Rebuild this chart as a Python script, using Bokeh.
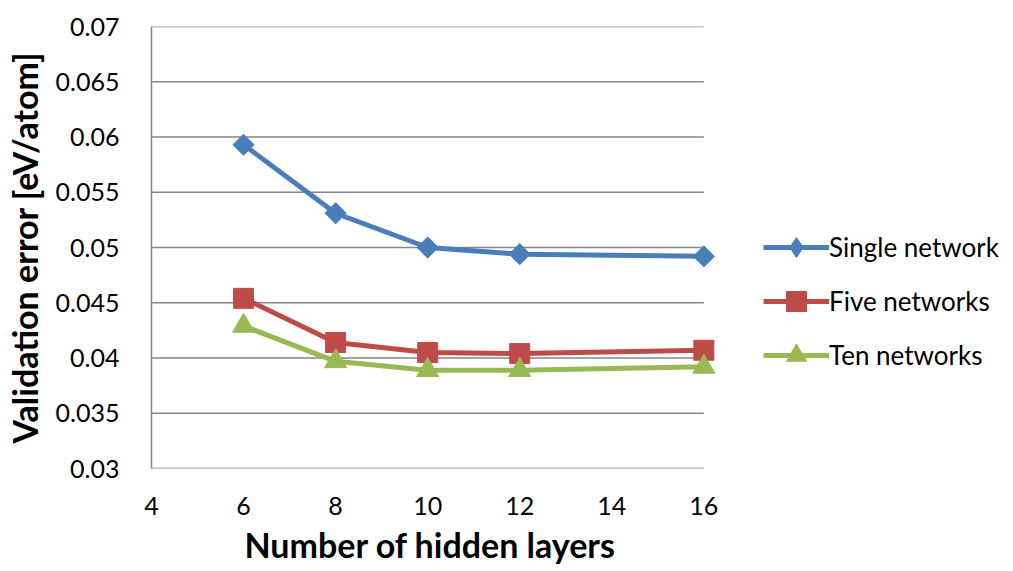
from bokeh.plotting import figure
from bokeh.models import Legend, LegendItem, FixedTicker, Range1d, Title
from bokeh.embed import file_html
from bokeh.resources import INLINE

# Validation error versus number of hidden layers for three ensemble sizes
hidden_layers = [6, 8, 10, 12, 16]
single_network = [0.0593, 0.0531, 0.0500, 0.0494, 0.0492]
five_networks = [0.0454, 0.0414, 0.0405, 0.0404, 0.0407]
ten_networks = [0.0429, 0.0397, 0.0389, 0.0389, 0.0392]

x_ticks = [4, 6, 8, 10, 12, 14, 16]
y_ticks = [0.03, 0.035, 0.04, 0.045, 0.05, 0.055, 0.06, 0.065, 0.07]

FONT = "Lato"
BLUE = "#4a7ebb"
RED = "#be4b48"
GREEN = "#98b954"
GREY = "#868686"

# Layout: the plotting area spans x_ticks[0]..x_ticks[-1] over AREA_W pixels;
# the frame runs on to the right so the legend can sit beside the lines.
W, H = 1013, 571
LEFT, RIGHT, TOP, BOTTOM = 150, 0, 26, 103
AREA_W = 553
frame_w = W - LEFT - RIGHT
x_lo, x_hi = x_ticks[0], x_ticks[-1]
x_end = x_lo + (x_hi - x_lo) * frame_w / AREA_W

p = figure(
    width=W, height=H,
    x_range=Range1d(x_lo, x_end), y_range=Range1d(y_ticks[0], y_ticks[-1]),
    output_backend="svg", toolbar_location=None,
    min_border_left=LEFT, min_border_right=RIGHT,
    min_border_top=TOP, min_border_bottom=BOTTOM,
)
p.outline_line_color = None
p.background_fill_color = "white"
p.border_fill_color = "white"

p.xaxis.ticker = FixedTicker(ticks=x_ticks)
p.yaxis.ticker = FixedTicker(ticks=y_ticks)
p.yaxis.major_label_overrides = {t: f"{t:g}" for t in y_ticks}

for ax in (p.xaxis[0], p.yaxis[0]):
    ax.major_tick_line_color = None
    ax.minor_tick_line_color = None
    ax.major_label_text_font = FONT
    ax.major_label_text_font_size = "25px"
    ax.major_label_text_color = "black"
    ax.axis_label_text_font = FONT
    ax.axis_label_text_font_style = "bold"
    ax.axis_label_text_font_size = "34px"
    ax.axis_label_text_color = "black"

p.yaxis.axis_line_color = GREY
p.yaxis.axis_line_width = 1.5
p.xaxis.axis_line_color = None

p.yaxis.axis_label = "Validation error [eV/atom]"
p.xaxis.major_label_standoff = 22
p.yaxis.major_label_standoff = 26
p.yaxis.axis_label_standoff = 8

# x axis title, centred under the plotting area rather than the whole frame
x_title = Title(
    text="Number of hidden layers", align="left", offset=93, standoff=8,
    text_font=FONT, text_font_size="34px", text_font_style="bold",
    text_color="black",
)
p.add_layout(x_title, "below")

# horizontal gridlines (and the x axis line) only across the plotting area
p.xgrid.grid_line_color = None
p.ygrid.grid_line_color = None
p.segment(x0=[x_lo] * len(y_ticks), x1=[x_hi] * len(y_ticks),
          y0=y_ticks, y1=y_ticks, line_color=GREY, line_width=1.5)

l1 = p.line(hidden_layers, single_network, line_color=BLUE, line_width=5)
# diamond symbol for the legend key, drawn beneath the rotated squares
m1_key = p.scatter(hidden_layers, single_network, marker="diamond", size=15,
                   fill_color=BLUE, line_color=BLUE)
m1 = p.scatter(hidden_layers, single_network, marker="square", size=15,
               angle=45, angle_units="deg", fill_color=BLUE, line_color=BLUE)
l2 = p.line(hidden_layers, five_networks, line_color=RED, line_width=5)
m2 = p.scatter(hidden_layers, five_networks, marker="square", size=20,
               fill_color=RED, line_color=RED)
l3 = p.line(hidden_layers, ten_networks, line_color=GREEN, line_width=5)
m3 = p.scatter(hidden_layers, ten_networks, marker="triangle", size=22,
               fill_color=GREEN, line_color=GREEN)

legend = Legend(
    items=[
        LegendItem(label="Single network", renderers=[l1, m1_key]),
        LegendItem(label="Five networks", renderers=[l2, m2]),
        LegendItem(label="Ten networks", renderers=[l3, m3]),
    ],
    location=(612, 88),
    orientation="vertical",
    border_line_color=None,
    background_fill_alpha=0,
    label_text_font=FONT,
    label_text_font_size="26px",
    label_text_color="black",
    glyph_width=66,
    glyph_height=50,
    spacing=4,
    label_standoff=0,
    padding=0,
    margin=0,
)
p.add_layout(legend, "center")

open("out.html", "w").write(file_html(p, INLINE))
